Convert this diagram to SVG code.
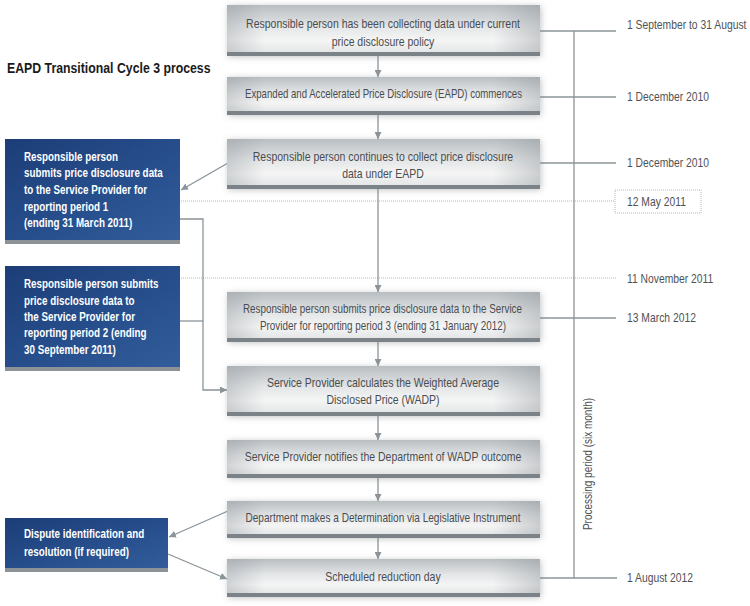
<svg xmlns="http://www.w3.org/2000/svg" width="750" height="606" viewBox="0 0 750 606">
<defs>
<linearGradient id="gv" x1="0" y1="0" x2="0" y2="1">
<stop offset="0" stop-color="#b9bec2"/>
<stop offset="0.45" stop-color="#e3e5e6"/>
<stop offset="0.75" stop-color="#f5f5f5"/>
<stop offset="1" stop-color="#e4e6e7"/>
</linearGradient>
<linearGradient id="gh" x1="0" y1="0" x2="1" y2="0">
<stop offset="0" stop-color="#8e959a" stop-opacity="0.35"/>
<stop offset="0.12" stop-color="#8e959a" stop-opacity="0"/>
<stop offset="0.85" stop-color="#8e959a" stop-opacity="0"/>
<stop offset="1" stop-color="#8e959a" stop-opacity="0.4"/>
</linearGradient>
<linearGradient id="bl" x1="0" y1="0" x2="1" y2="1">
<stop offset="0" stop-color="#1c3d77"/>
<stop offset="0.6" stop-color="#28508e"/>
<stop offset="1" stop-color="#325d9a"/>
</linearGradient>
<filter id="sh" x="-10%" y="-30%" width="120%" height="160%">
<feDropShadow dx="1" dy="1" stdDeviation="3" flood-color="#7a7f83" flood-opacity="0.45"/>
</filter>
<marker id="ar" viewBox="0 0 8 8" refX="8" refY="4" markerWidth="7" markerHeight="7" markerUnits="userSpaceOnUse" orient="auto">
<path d="M0,0 L8,4 L0,8 Z" fill="#8a949a"/>
</marker>
<style>
.gb{fill:url(#gv)}
.go{fill:url(#gh)}
.bar{fill:#7c8388}
.bb{fill:url(#bl)}
.bbar{fill:#8d9297}
.gt{font-family:"Liberation Sans",Arial,sans-serif;font-size:12.8px;fill:#4a4d50;text-anchor:middle}
.wt{font-family:"Liberation Sans",Arial,sans-serif;font-size:12px;font-weight:bold;fill:#ffffff}
.dt{font-family:"Liberation Sans",Arial,sans-serif;font-size:12.6px;fill:#4f5255}
.ttl{font-family:"Liberation Sans",Arial,sans-serif;font-size:15px;font-weight:bold;fill:#1a1a1a}
.ln{fill:none;stroke:#8a949a;stroke-width:1.3}
.dot{fill:none;stroke:#b3b8bb;stroke-width:1;stroke-dasharray:1 1}
</style>
</defs>
<rect width="750" height="606" fill="#ffffff"/>

<text class="ttl" transform="translate(7 73) scale(0.82 1)">EAPD Transitional Cycle 3 process</text>

<g id="connectors">
<line class="dot" x1="181" y1="201" x2="615" y2="201"/>
<line class="dot" x1="181" y1="278" x2="616" y2="278"/>
<rect class="dot" x="615" y="190" width="86" height="23"/>
<path class="ln" d="M574,31 V578"/>
<path class="ln" d="M540,31 H616"/>
<path class="ln" d="M540,97 H616"/>
<path class="ln" d="M540,163 H616"/>
<path class="ln" d="M540,318 H616"/>
<path class="ln" d="M540,578 H617"/>
<path class="ln" d="M378,56 V77" marker-end="url(#ar)"/>
<path class="ln" d="M378,115 V139" marker-end="url(#ar)"/>
<path class="ln" d="M378,189 V292" marker-end="url(#ar)"/>
<path class="ln" d="M378,342 V366" marker-end="url(#ar)"/>
<path class="ln" d="M378,416 V440" marker-end="url(#ar)"/>
<path class="ln" d="M378,478 V501" marker-end="url(#ar)"/>
<path class="ln" d="M378,538 V559" marker-end="url(#ar)"/>
<path class="ln" d="M228,163 L181,190" marker-end="url(#ar)"/>
<path class="ln" d="M180,219 H203 V390 H227" marker-end="url(#ar)"/>
<path class="ln" d="M178,321 H203"/>
<path class="ln" d="M228,511 L169,537" marker-end="url(#ar)"/>
<path class="ln" d="M168,554 L227,579" marker-end="url(#ar)"/>
</g>

<g id="n1">
<g filter="url(#sh)">
<rect class="gb" x="227" y="5" width="313" height="47"/>
<rect class="go" x="227" y="5" width="313" height="47"/>
<rect class="bar" x="227" y="52" width="313" height="4"/>
</g>
<text class="gt" transform="translate(383 28) scale(0.82 1)">Responsible person has been collecting data under current</text>
<text class="gt" transform="translate(383 46) scale(0.82 1)">price disclosure policy</text>
</g>

<g id="n2">
<g filter="url(#sh)">
<rect class="gb" x="227" y="77" width="313" height="34"/>
<rect class="go" x="227" y="77" width="313" height="34"/>
<rect class="bar" x="227" y="111" width="313" height="4"/>
</g>
<text class="gt" x="383.5" y="98" textLength="277" lengthAdjust="spacingAndGlyphs">Expanded and Accelerated Price Disclosure (EAPD) commences</text>
</g>

<g id="n3">
<g filter="url(#sh)">
<rect class="gb" x="227" y="139" width="313" height="46"/>
<rect class="go" x="227" y="139" width="313" height="46"/>
<rect class="bar" x="227" y="185" width="313" height="4"/>
</g>
<text class="gt" transform="translate(383 161) scale(0.82 1)">Responsible person continues to collect price disclosure</text>
<text class="gt" transform="translate(383 178) scale(0.82 1)">data under EAPD</text>
</g>

<g id="n4">
<g filter="url(#sh)">
<rect class="gb" x="227" y="292" width="313" height="46"/>
<rect class="go" x="227" y="292" width="313" height="46"/>
<rect class="bar" x="227" y="338" width="313" height="4"/>
</g>
<text class="gt" x="382.5" y="313" textLength="279" lengthAdjust="spacingAndGlyphs">Responsible person submits price disclosure data to the Service</text>
<text class="gt" x="383" y="330" textLength="246" lengthAdjust="spacingAndGlyphs">Provider for reporting period 3 (ending 31 January 2012)</text>
</g>

<g id="n5">
<g filter="url(#sh)">
<rect class="gb" x="227" y="366" width="313" height="46"/>
<rect class="go" x="227" y="366" width="313" height="46"/>
<rect class="bar" x="227" y="412" width="313" height="4"/>
</g>
<text class="gt" transform="translate(383 387) scale(0.82 1)">Service Provider calculates the Weighted Average</text>
<text class="gt" transform="translate(383 404) scale(0.82 1)">Disclosed Price (WADP)</text>
</g>

<g id="n6">
<g filter="url(#sh)">
<rect class="gb" x="227" y="440" width="313" height="34"/>
<rect class="go" x="227" y="440" width="313" height="34"/>
<rect class="bar" x="227" y="474" width="313" height="4"/>
</g>
<text class="gt" transform="translate(383 461) scale(0.82 1)">Service Provider notifies the Department of WADP outcome</text>
</g>

<g id="n7">
<g filter="url(#sh)">
<rect class="gb" x="227" y="501" width="313" height="33"/>
<rect class="go" x="227" y="501" width="313" height="33"/>
<rect class="bar" x="227" y="534" width="313" height="4"/>
</g>
<text class="gt" x="383" y="522" textLength="275" lengthAdjust="spacingAndGlyphs">Department makes a Determination via Legislative Instrument</text>
</g>

<g id="n8">
<g filter="url(#sh)">
<rect class="gb" x="227" y="559" width="313" height="34"/>
<rect class="go" x="227" y="559" width="313" height="34"/>
<rect class="bar" x="227" y="593" width="313" height="4"/>
</g>
<text class="gt" transform="translate(383 581) scale(0.82 1)">Scheduled reduction day</text>
</g>

<g id="bA">
<rect class="bb" x="5" y="139" width="175" height="101"/>
<rect class="bbar" x="5" y="240" width="175" height="4"/>
<text class="wt" transform="translate(24 161) scale(0.82 1)">Responsible person</text>
<text class="wt" transform="translate(24 177) scale(0.82 1)">submits price disclosure data</text>
<text class="wt" transform="translate(24 194) scale(0.82 1)">to the Service Provider for</text>
<text class="wt" transform="translate(24 211) scale(0.82 1)">reporting period 1</text>
<text class="wt" transform="translate(24 227) scale(0.82 1)">(ending 31 March 2011)</text>
</g>

<g id="bB">
<rect class="bb" x="5" y="266" width="175" height="101"/>
<rect class="bbar" x="5" y="367" width="175" height="4"/>
<text class="wt" transform="translate(24 288) scale(0.82 1)">Responsible person submits</text>
<text class="wt" transform="translate(24 305) scale(0.82 1)">price disclosure data to</text>
<text class="wt" transform="translate(24 321) scale(0.82 1)">the Service Provider for</text>
<text class="wt" transform="translate(24 337) scale(0.82 1)">reporting period 2 (ending</text>
<text class="wt" transform="translate(24 354) scale(0.82 1)">30 September 2011)</text>
</g>

<g id="bC">
<rect class="bb" x="5" y="518" width="163" height="50"/>
<rect class="bbar" x="5" y="568" width="163" height="4"/>
<text class="wt" transform="translate(24 538) scale(0.82 1)">Dispute identification and</text>
<text class="wt" transform="translate(24 556) scale(0.82 1)">resolution (if required)</text>
</g>

<g id="dates">
<text class="dt" transform="translate(627 29) scale(0.82 1)">1 September to 31 August</text>
<text class="dt" transform="translate(627 101) scale(0.82 1)">1 December 2010</text>
<text class="dt" transform="translate(627 167) scale(0.82 1)">1 December 2010</text>
<text class="dt" transform="translate(627 206) scale(0.82 1)">12 May 2011</text>
<text class="dt" transform="translate(627 283) scale(0.82 1)">11 November 2011</text>
<text class="dt" transform="translate(627 322) scale(0.82 1)">13 March 2012</text>
<text class="dt" transform="translate(627 582) scale(0.82 1)">1 August 2012</text>
<text class="dt" text-anchor="middle" transform="translate(592 464) rotate(-90) scale(0.82 1)" style="font-size:12.2px">Processing period (six month)</text>
</g>
</svg>
